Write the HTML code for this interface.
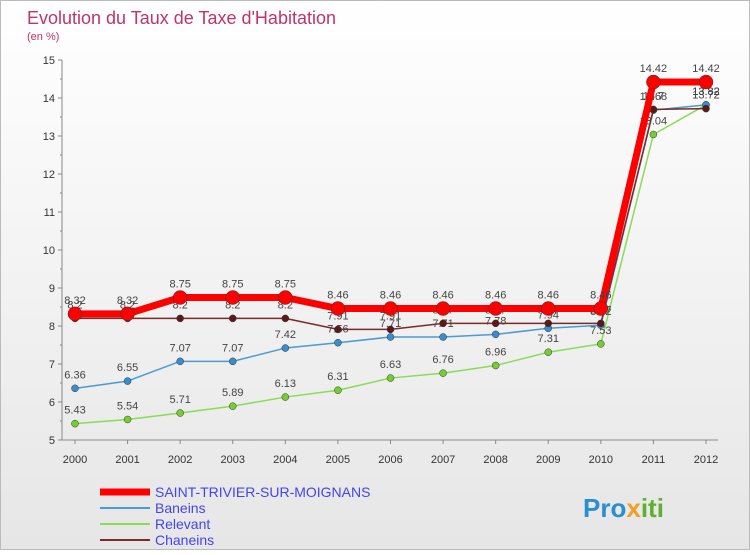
<!DOCTYPE html>
<html><head><meta charset="utf-8"><style>
body{margin:0;width:750px;height:550px;overflow:hidden;font-family:"Liberation Sans",sans-serif}
</style></head><body>
<svg id="c" width="750" height="550" xmlns="http://www.w3.org/2000/svg" font-family="Liberation Sans, sans-serif">
<defs><linearGradient id="bg" x1="0" y1="0" x2="0" y2="1"><stop offset="0" stop-color="#ffffff"/><stop offset="1" stop-color="#e6e6e6"/></linearGradient></defs>
<rect x="0.5" y="0.5" width="749" height="549" fill="url(#bg)" stroke="#bbb"/>
<text x="27" y="24" font-size="18" fill="#c0336b">Evolution du Taux de Taxe d'Habitation</text>
<text x="27" y="40" font-size="11" fill="#c0336b">(en %)</text>
<g id="axes"></g><g id="series"></g>
<g font-size="14">
<line x1="100" y1="492" x2="150" y2="492" stroke="#ff0000" stroke-width="7"/><text x="155" y="497" fill="#4444ee">SAINT-TRIVIER-SUR-MOIGNANS</text>
<line x1="100" y1="508" x2="150" y2="508" stroke="#4a9ad4" stroke-width="2"/><text x="155" y="513" fill="#4444ee">Baneins</text>
<line x1="100" y1="524" x2="150" y2="524" stroke="#88dd55" stroke-width="2"/><text x="155" y="529" fill="#4444ee">Relevant</text>
<line x1="100" y1="540" x2="150" y2="540" stroke="#7a2a2a" stroke-width="2"/><text x="155" y="545" fill="#4444ee">Chaneins</text>
</g>
<text x="583" y="517" font-size="26" font-weight="bold" fill="#2a8fd0">Pro<tspan fill="#f0a020">x</tspan><tspan fill="#60b030">iti</tspan></text>
</svg>
<script>
const years=[2000,2001,2002,2003,2004,2005,2006,2007,2008,2009,2010,2011,2012];
const yTicks=[5,6,7,8,9,10,11,12,13,14,15];
const saint=[8.32,8.32,8.75,8.75,8.75,8.46,8.46,8.46,8.46,8.46,8.46,14.42,14.42];
const baneins=[6.36,6.55,7.07,7.07,7.42,7.56,7.71,7.71,7.78,7.94,8.02,13.68,13.82];
const relevant=[5.43,5.54,5.71,5.89,6.13,6.31,6.63,6.76,6.96,7.31,7.53,13.04,13.82];
const chaneins=[8.2,8.2,8.2,8.2,8.2,7.91,7.91,8.07,8.07,8.07,8.07,13.7,13.72];
const NS='http://www.w3.org/2000/svg';
const X=i=>75+i*(706-75)/(years.length-1);
const Y=v=>440-(v-5)*38;
function mk(t,a,p){const e=document.createElementNS(NS,t);for(const k in a)e.setAttribute(k,a[k]);p.appendChild(e);return e;}
const ax=document.getElementById('axes');
let l=mk('line',{x1:62,y1:Y(15),x2:62,y2:440,stroke:'#888'},ax);


l=mk('line',{x1:62,y1:440,x2:718,y2:440,stroke:'#888'},ax);


yTicks.forEach(v=>{
 mk('line',{x1:58,y1:Y(v),x2:62,y2:Y(v),stroke:'#888'},ax);
 if(v<15)mk('line',{x1:60,y1:Y(v+0.5),x2:62,y2:Y(v+0.5),stroke:'#888'},ax);
 const t=mk('text',{x:55,y:Y(v)+4,'font-size':11,'text-anchor':'end',fill:'#333'},ax);t.textContent=v;
 
 
});
years.forEach((y,i)=>{
 mk('line',{x1:X(i),y1:440,x2:X(i),y2:444,stroke:'#888'},ax);
 const t=mk('text',{x:X(i),y:463,'font-size':11,'text-anchor':'middle',fill:'#333'},ax);t.textContent=y;
 
 
});
const sg=document.getElementById('series');
function draw(name,vals,col,w,r,dot){
 const g=mk('g',{},sg);
 
 
 mk('polyline',{points:vals.map((v,i)=>X(i)+','+Y(v)).join(' '),fill:'none',stroke:col,'stroke-width':w,'stroke-linejoin':'round'},g);
 vals.forEach((v,i)=>{
  const c=mk('circle',{cx:X(i),cy:Y(v),r:r,fill:dot,stroke:'#333','stroke-width':0.5},g);
  
  
  const t=mk('text',{x:X(i),y:Y(v)-10,'font-size':11,'text-anchor':'middle',fill:'#444'},g);t.textContent=v;
 });
}
draw('relevant',relevant,'#88dd55',1.5,3.5,'#77cc33');
draw('baneins',baneins,'#4a9ad4',1.5,3.5,'#3a8ccc');
draw('chaneins',chaneins,'#7a2a2a',1.5,3.5,'#5a1a1a');
draw('saint-trivier',saint,'#ff0000',7,7,'#ff0000');
</script>
</body></html>
